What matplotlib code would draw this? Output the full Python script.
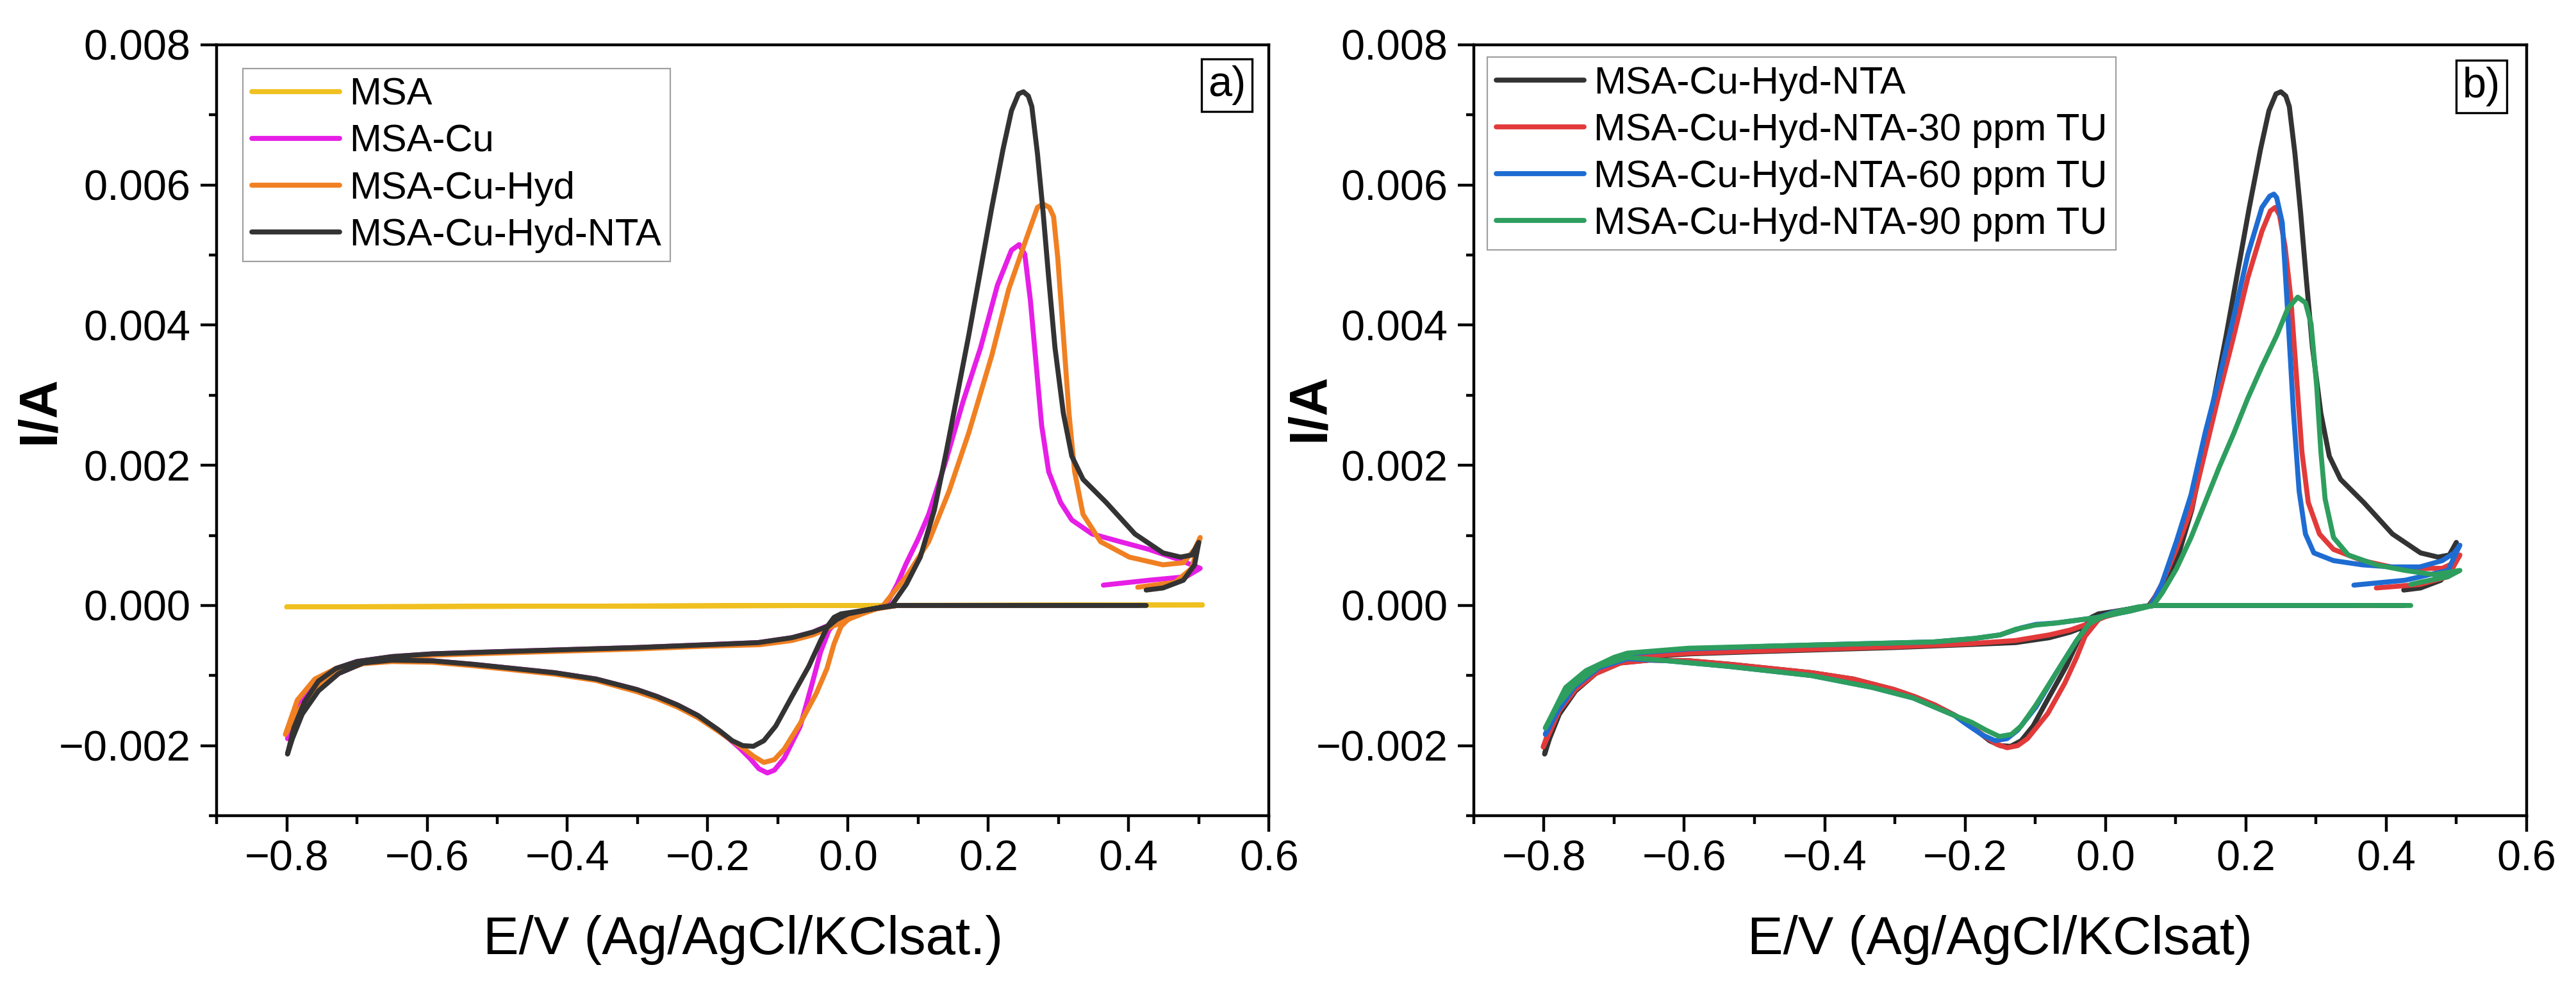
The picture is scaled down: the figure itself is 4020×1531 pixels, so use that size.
import numpy as np
import matplotlib
matplotlib.use('Agg')
import matplotlib.pyplot as plt
from matplotlib.ticker import MultipleLocator, FuncFormatter

plt.rcParams['font.family'] = ['Liberation Sans', 'DejaVu Sans']

# ---- data (E in V, I in A) ----
# MSA-Cu-Hyd-NTA (black), same curve in both panels
nta_E = [0.425, 0.30, 0.15, 0.07, 0.04, 0.01, -0.01, -0.02, -0.028, -0.039, -0.056, -0.08, -0.103, -0.12,
         -0.135, -0.15, -0.165, -0.184, -0.214, -0.243, -0.272, -0.301, -0.359, -0.418, -0.476, -0.534,
         -0.592, -0.65, -0.691, -0.726, -0.755, -0.778, -0.792, -0.799,
         -0.79, -0.775, -0.755, -0.73, -0.70, -0.65, -0.592, -0.5, -0.4, -0.3, -0.2, -0.128, -0.08, -0.05,
         -0.027, -0.016, 0.0, 0.02, 0.04, 0.062, 0.083, 0.103, 0.123, 0.14, 0.156, 0.172, 0.189, 0.205,
         0.221, 0.233, 0.243, 0.25, 0.257, 0.262, 0.27, 0.278, 0.286, 0.295, 0.307, 0.319, 0.335, 0.368,
         0.409, 0.449, 0.474, 0.49, 0.5, 0.494, 0.478, 0.449, 0.425]
nta_I = [0.0, 0.0, 0.0, 0.0, -0.00004, -0.00009, -0.00012, -0.00017, -0.00028, -0.0005, -0.00087, -0.0013,
         -0.00172, -0.00193, -0.00201, -0.002, -0.00193, -0.00178, -0.00157, -0.00142, -0.0013, -0.0012,
         -0.00105, -0.00096, -0.0009, -0.00084, -0.00079, -0.00078, -0.00082, -0.00097, -0.00122, -0.00155,
         -0.0019, -0.00212,
         -0.00175, -0.00138, -0.00108, -0.0009, -0.0008, -0.00073, -0.00069, -0.00066, -0.00063, -0.0006,
         -0.00056, -0.00053, -0.00046, -0.00038, -0.00029, -0.0002, -0.00012, -0.00008, -0.00004, 0.0,
         0.0003, 0.00069, 0.00136, 0.00219, 0.00302, 0.00385, 0.00479, 0.00568, 0.00651, 0.00706, 0.0073,
         0.00733, 0.00727, 0.00712, 0.00645, 0.00562, 0.00468, 0.00368, 0.00274, 0.00213, 0.0018, 0.00147,
         0.00102, 0.00075, 0.00069, 0.00072, 0.0009, 0.00058, 0.00036, 0.00025, 0.00022]

# MSA (yellow)
msa_E = [0.505, 0.0, -0.8, 0.0, 0.505]
msa_I = [0.000005, 0.0, -0.00002, 0.0, 0.00001]

# MSA-Cu (magenta)
cu_E = [0.364, 0.2, 0.07, 0.04, 0.01, -0.01, -0.027, -0.039, -0.051, -0.068, -0.091, -0.105, -0.115, -0.127,
        -0.14, -0.155, -0.17, -0.19, -0.214, -0.243, -0.272, -0.301, -0.359, -0.418, -0.476, -0.534, -0.592,
        -0.65, -0.691, -0.726, -0.755, -0.778, -0.799,
        -0.785, -0.76, -0.73, -0.70, -0.65, -0.592, -0.5, -0.4, -0.3, -0.2, -0.128, -0.08, -0.05, -0.027,
        0.0, 0.02, 0.04, 0.054, 0.07, 0.083, 0.1, 0.115, 0.14, 0.164, 0.189, 0.213, 0.233, 0.244, 0.252,
        0.26, 0.268, 0.276, 0.286, 0.303, 0.319, 0.348, 0.388, 0.429, 0.47, 0.502, 0.482, 0.429, 0.364]
cu_I = [0.0, 0.0, 0.0, -0.00004, -0.0001, -0.00016, -0.00035, -0.00066, -0.00111, -0.00172, -0.00218,
        -0.00235, -0.00239, -0.00233, -0.00218, -0.00203, -0.0019, -0.00175, -0.00157, -0.00142, -0.0013,
        -0.0012, -0.00105, -0.00096, -0.0009, -0.00084, -0.00079, -0.00078, -0.00082, -0.00097, -0.00121,
        -0.00152, -0.0019,
        -0.00145, -0.00108, -0.0009, -0.0008, -0.00073, -0.00069, -0.00066, -0.00063, -0.0006, -0.00056,
        -0.00053, -0.00046, -0.00038, -0.00028, -0.00015, -0.0001, -0.00005, 0.0, 0.0003, 0.0006, 0.00095,
        0.0013, 0.00208, 0.00291, 0.00368, 0.00457, 0.00507, 0.00515, 0.00501, 0.00435, 0.00346, 0.00257,
        0.00191, 0.00147, 0.00122, 0.00102, 0.00091, 0.0008, 0.00066, 0.00053, 0.00041, 0.00036, 0.00029]

# MSA-Cu-Hyd (orange)
hyd_E = [0.413, 0.2, 0.07, 0.04, 0.01, -0.01, -0.02, -0.03, -0.045, -0.068, -0.091, -0.105, -0.12, -0.135,
         -0.15, -0.161, -0.184, -0.214, -0.243, -0.272, -0.301, -0.359, -0.418, -0.476, -0.534, -0.592, -0.65,
         -0.691, -0.726, -0.755, -0.78, -0.802,
         -0.785, -0.76, -0.73, -0.70, -0.65, -0.592, -0.5, -0.4, -0.3, -0.2, -0.126, -0.08, -0.05, -0.027,
         0.0, 0.02, 0.04, 0.05, 0.083, 0.115, 0.144, 0.172, 0.205, 0.229, 0.254, 0.27, 0.278, 0.287, 0.293,
         0.299, 0.307, 0.315, 0.323, 0.335, 0.36, 0.401, 0.449, 0.478, 0.494, 0.502, 0.49, 0.466, 0.413]
hyd_I = [0.0, 0.0, 0.0, -0.00005, -0.0001, -0.0003, -0.00055, -0.0009, -0.00125, -0.00168, -0.00205,
         -0.0022, -0.00224, -0.00215, -0.00203, -0.00196, -0.0018, -0.0016, -0.00145, -0.00133, -0.00123,
         -0.00107, -0.00098, -0.00092, -0.00086, -0.00081, -0.0008, -0.00083, -0.00095, -0.00115, -0.00145,
         -0.00184,
         -0.00135, -0.00105, -0.0009, -0.00081, -0.00075, -0.00071, -0.00068, -0.00065, -0.00062, -0.00058,
         -0.00056, -0.0005, -0.00042, -0.00032, -0.0002, -0.00012, -0.00005, 0.0, 0.00041, 0.00091, 0.00163,
         0.00246, 0.00357, 0.00451, 0.00523, 0.00568, 0.00573, 0.00568, 0.00555, 0.00496, 0.00385, 0.00274,
         0.00191, 0.0013, 0.00091, 0.00069, 0.00058, 0.00061, 0.0008, 0.00097, 0.00053, 0.00033, 0.00026]

# MSA-Cu-Hyd-NTA-30 ppm TU (red)
tu30_E = [0.386, 0.2, 0.07, 0.04, 0.01, -0.008, -0.017, -0.029, -0.041, -0.058, -0.082, -0.111, -0.125, -0.14,
          -0.155, -0.17, -0.184, -0.214, -0.243, -0.272, -0.301, -0.359, -0.418, -0.476, -0.534, -0.592,
          -0.65, -0.691, -0.726, -0.755, -0.778, -0.801,
          -0.79, -0.775, -0.755, -0.73, -0.70, -0.65, -0.592, -0.5, -0.4, -0.3, -0.2, -0.128, -0.08, -0.05,
          -0.027, 0.0, 0.03, 0.064, 0.08, 0.101, 0.122, 0.142, 0.162, 0.183, 0.203, 0.223, 0.235, 0.242,
          0.248, 0.256, 0.264, 0.272, 0.28, 0.289, 0.305, 0.325, 0.366, 0.407, 0.448, 0.48, 0.497, 0.505,
          0.488, 0.448, 0.386]
tu30_I = [0.0, 0.0, 0.0, -0.00004, -0.0001, -0.00018, -0.00029, -0.00044, -0.00074, -0.00111, -0.00154,
          -0.0019, -0.002, -0.00203, -0.00198, -0.00188, -0.00178, -0.00157, -0.00142, -0.0013, -0.0012,
          -0.00105, -0.00096, -0.0009, -0.00084, -0.00079, -0.00078, -0.00082, -0.00097, -0.0012, -0.0015,
          -0.00202,
          -0.0017, -0.00135, -0.00106, -0.00089, -0.00079, -0.00072, -0.00068, -0.00065, -0.00062, -0.00059,
          -0.00055, -0.0005, -0.00042, -0.00035, -0.00027, -0.00016, -0.00008, 0.0, 0.0003, 0.0008, 0.00136,
          0.00219, 0.00302, 0.00385, 0.00468, 0.00534, 0.00563, 0.00568, 0.00557, 0.00512, 0.0044, 0.0033,
          0.00219, 0.00147, 0.00102, 0.0008, 0.00064, 0.00055, 0.00053, 0.00053, 0.00061, 0.00072,
          0.00041, 0.0003, 0.00025]

# MSA-Cu-Hyd-NTA-60 ppm TU (blue)
tu60_E = [0.354, 0.2, 0.07, 0.04, 0.01, -0.01, -0.023, -0.041, -0.07, -0.099, -0.125, -0.14, -0.157, -0.175,
          -0.2, -0.215, -0.274, -0.332, -0.419, -0.536, -0.623, -0.681, -0.722, -0.757, -0.78, -0.798,
          -0.769, -0.74, -0.70, -0.681, -0.594, -0.477, -0.361, -0.244, -0.186, -0.15, -0.12, -0.099, -0.07,
          -0.04, -0.011, 0.035, 0.065, 0.08, 0.101, 0.122, 0.142, 0.162, 0.183, 0.203, 0.223, 0.234, 0.24,
          0.244, 0.252, 0.26, 0.268, 0.276, 0.285, 0.297, 0.325, 0.366, 0.407, 0.448, 0.48, 0.497, 0.505,
          0.488, 0.427, 0.354]
tu60_I = [0.0, 0.0, 0.0, -0.00004, -0.0001, -0.00017, -0.00026, -0.0005, -0.00096, -0.00145, -0.00178,
          -0.0019, -0.00193, -0.00185, -0.00168, -0.00157, -0.00132, -0.00117, -0.001, -0.00087, -0.00079,
          -0.00076, -0.00089, -0.00117, -0.0015, -0.00184,
          -0.0012, -0.00094, -0.00075, -0.00069, -0.00062, -0.00058, -0.00055, -0.00052, -0.00047, -0.00042,
          -0.00032, -0.00027, -0.00025, -0.00021, -0.00017, -0.00008, 0.0, 0.0003, 0.00091, 0.00158,
          0.00246, 0.00324, 0.00413, 0.00501, 0.00568, 0.00584, 0.00587, 0.00582, 0.00546, 0.00413, 0.00274,
          0.00163, 0.00102, 0.00075, 0.00064, 0.00058, 0.00055, 0.00055, 0.00064, 0.00075, 0.00086,
          0.0005, 0.00036, 0.00029]

# MSA-Cu-Hyd-NTA-90 ppm TU (green)
tu90_E = [0.435, 0.2, 0.07, 0.047, 0.02, 0.0, -0.023, -0.041, -0.07, -0.099, -0.12, -0.134, -0.151, -0.17,
          -0.19, -0.215, -0.274, -0.332, -0.419, -0.536, -0.623, -0.681, -0.722, -0.757, -0.78, -0.798,
          -0.769, -0.74, -0.70, -0.681, -0.594, -0.477, -0.361, -0.244, -0.186, -0.15, -0.128, -0.1, -0.07,
          -0.04, -0.011, 0.035, 0.068, 0.081, 0.101, 0.122, 0.142, 0.162, 0.183, 0.203, 0.223, 0.244, 0.26,
          0.274, 0.285, 0.293, 0.301, 0.307, 0.313, 0.325, 0.346, 0.386, 0.427, 0.468, 0.505, 0.488, 0.448,
          0.435]
tu90_I = [0.0, 0.0, 0.0, -0.00002, -0.00008, -0.00014, -0.00026, -0.0005, -0.00096, -0.00142, -0.00172,
          -0.00184, -0.00187, -0.00178, -0.00167, -0.00157, -0.00132, -0.00117, -0.001, -0.00087, -0.00079,
          -0.00074, -0.00087, -0.00114, -0.00142, -0.00175,
          -0.00117, -0.00093, -0.00074, -0.00068, -0.00061, -0.00058, -0.00055, -0.00052, -0.00047, -0.00042,
          -0.00034, -0.00028, -0.00025, -0.00021, -0.00017, -0.00008, 0.0, 0.00018, 0.00052, 0.00097,
          0.00147, 0.00197, 0.00246, 0.00296, 0.00341, 0.00385, 0.00424, 0.0044, 0.00432, 0.00402, 0.00313,
          0.00219, 0.00152, 0.00097, 0.00072, 0.00058, 0.0005, 0.00044, 0.0005, 0.00041, 0.00033, 0.0003]

labels_a = ['MSA', 'MSA-Cu', 'MSA-Cu-Hyd', 'MSA-Cu-Hyd-NTA']
labels_b = ['MSA-Cu-Hyd-NTA', 'MSA-Cu-Hyd-NTA-30 ppm TU', 'MSA-Cu-Hyd-NTA-60 ppm TU', 'MSA-Cu-Hyd-NTA-90 ppm TU']
colors_a = ['#F0C020', '#E61EE6', '#F08022', '#333333']
colors_b = ['#333333', '#E23A3A', '#1E6CD2', '#2E9E5E']


def fmt_x(v, pos):
    s = '%.1f' % v
    if s == '-0.0':
        s = '0.0'
    return s.replace('-', '\u2212')


def fmt_y(v, pos):
    s = '%.3f' % v
    if s == '-0.000':
        s = '0.000'
    return s.replace('-', '\u2212')


def style_axes(ax):
    ax.set_xlim(-0.9, 0.6)
    ax.set_ylim(-0.003, 0.008)
    ax.xaxis.set_major_locator(MultipleLocator(0.2))
    ax.xaxis.set_minor_locator(MultipleLocator(0.1))
    ax.yaxis.set_major_locator(MultipleLocator(0.002))
    ax.yaxis.set_minor_locator(MultipleLocator(0.001))
    ax.xaxis.set_major_formatter(FuncFormatter(fmt_x))
    ax.yaxis.set_major_formatter(FuncFormatter(fmt_y))
    ax.tick_params(which='both', direction='out', top=False, right=False, width=3.2)
    ax.tick_params(which='major', length=18, labelsize=48)
    ax.tick_params(which='minor', length=9)
    ax.tick_params(axis='x', which='major', pad=9)
    ax.tick_params(axis='y', which='major', pad=11)
    for sp in ax.spines.values():
        sp.set_linewidth(3.2)


fig = plt.figure(figsize=(40.2, 15.31), dpi=100)
ax1 = fig.add_axes([0.0841, 0.1685, 0.4085, 0.7858])
ax2 = fig.add_axes([0.5721, 0.1685, 0.4087, 0.7858])

lw = 5.6
series_a = [(msa_E, msa_I), (cu_E, cu_I), (hyd_E, hyd_I), (nta_E, nta_I)]
for (E, I), lab, c in zip(series_a, labels_a, colors_a):
    ax1.plot(E, I, color=c, lw=lw, label=lab, solid_joinstyle='round', solid_capstyle='round')

series_b = [(nta_E, nta_I), (tu30_E, tu30_I), (tu60_E, tu60_I), (tu90_E, tu90_I)]
for (E, I), lab, c in zip(series_b, labels_b, colors_b):
    ax2.plot(E, I, color=c, lw=lw, label=lab, solid_joinstyle='round', solid_capstyle='round')

for ax in (ax1, ax2):
    style_axes(ax)
    ax.set_ylabel('I/A', fontsize=60, fontweight='bold')
    ax.yaxis.label.set_va('center')

ax1.set_xlabel('E/V (Ag/AgCl/KClsat.)', fontsize=60)
ax2.set_xlabel('E/V (Ag/AgCl/KClsat)', fontsize=60)
for ax in (ax1, ax2):
    ax.xaxis.set_label_coords(0.5, -0.1796)
    ax.xaxis.label.set_va('baseline')
ax1.yaxis.set_label_coords(-0.168, 0.526)
ax2.yaxis.set_label_coords(-0.156, 0.53)

leg_kw = dict(loc='upper left', fontsize=43, frameon=True, fancybox=False, borderpad=0.23,
              labelspacing=0.3, handlelength=2.3, handletextpad=0.25, borderaxespad=0)
leg1 = ax1.legend(bbox_to_anchor=(0.025, 0.969), **leg_kw)
leg2 = ax2.legend(bbox_to_anchor=(0.0128, 0.984), **leg_kw)
for leg in (leg1, leg2):
    leg.get_frame().set_edgecolor('#888888')
    leg.get_frame().set_linewidth(1.6)

box = dict(boxstyle='square,pad=0.15', facecolor='white', edgecolor='black', linewidth=2.4)
ax1.text(0.960, 0.948, 'a)', transform=ax1.transAxes, fontsize=48, ha='center', va='center', bbox=box)
ax2.text(0.957, 0.946, 'b)', transform=ax2.transAxes, fontsize=48, ha='center', va='center', bbox=box)

plt.savefig('out.png', dpi=100)
